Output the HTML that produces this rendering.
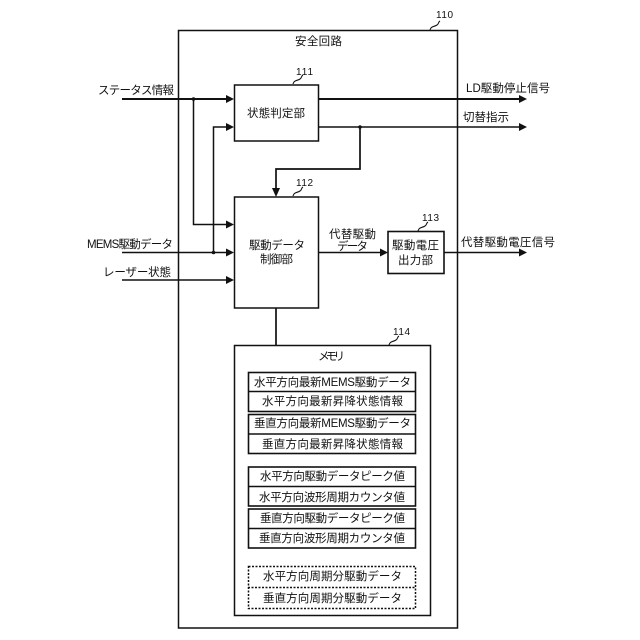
<!DOCTYPE html>
<html>
<head>
<meta charset="utf-8">
<style>
html,body{margin:0;padding:0;background:#fff;width:640px;height:640px;overflow:hidden}
svg{display:block}
text{font-family:"Liberation Sans","Noto Sans CJK JP",sans-serif;font-size:11.5px;fill:#111}
.n{font-size:10px}
rect{fill:none;stroke:#111}
line,polyline{stroke:#111;fill:none}
path.lead{stroke:#111;fill:none;stroke-width:1.1}
polygon,circle{fill:#111}
</style>
</head>
<body>
<svg width="640" height="640" viewBox="0 0 640 640" xmlns="http://www.w3.org/2000/svg">
<!-- boxes -->
<rect x="178.5" y="30.5" width="279" height="597.5" stroke-width="1.5"/>
<rect x="234.5" y="85" width="84" height="56" stroke-width="1.5"/>
<rect x="234.5" y="197" width="84" height="111" stroke-width="1.5"/>
<rect x="388" y="231.5" width="56" height="42" stroke-width="1.6"/>
<rect x="234.5" y="345.5" width="196" height="270" stroke-width="1.5"/>
<!-- memory rows -->
<rect x="248.5" y="372.5" width="167" height="39" stroke-width="1.6"/>
<line x1="248" y1="391.5" x2="416" y2="391.5" stroke-width="1.5"/>
<rect x="248.5" y="414.5" width="167" height="39" stroke-width="1.6"/>
<line x1="248" y1="434" x2="416" y2="434" stroke-width="1.5"/>
<rect x="248.5" y="467" width="167" height="39" stroke-width="1.6"/>
<line x1="248" y1="486.5" x2="416" y2="486.5" stroke-width="1.5"/>
<rect x="248.5" y="509" width="167" height="39" stroke-width="1.6"/>
<line x1="248" y1="528.5" x2="416" y2="528.5" stroke-width="1.5"/>
<rect x="248.5" y="566.5" width="167" height="42" stroke-width="1.5" stroke-dasharray="2 1.5"/>
<line x1="248" y1="587.5" x2="416" y2="587.5" stroke-width="1.5" stroke-dasharray="2 1.5"/>
<!-- connectors -->
<line x1="122" y1="99" x2="228" y2="99" stroke-width="2"/>
<polygon points="234,99 226,95 226,103"/>
<polyline points="193.5,99 193.5,224.5 228,224.5" stroke-width="1.5"/>
<polygon points="234,224.5 226,220.5 226,228.5"/>
<polyline points="213.5,252.5 213.5,127 228,127" stroke-width="1.5"/>
<polygon points="234,127 226,123 226,131"/>
<line x1="122" y1="252.5" x2="228" y2="252.5" stroke-width="1.5"/>
<polygon points="234,252.5 226,248.5 226,256.5"/>
<line x1="122" y1="280" x2="228" y2="280" stroke-width="1.5"/>
<polygon points="234,280 226,276 226,284"/>
<circle cx="193.5" cy="99" r="1.8"/>
<circle cx="213.5" cy="252.5" r="1.8"/>
<line x1="318" y1="99" x2="522" y2="99" stroke-width="2"/>
<polygon points="527,99 519,95 519,103"/>
<line x1="318" y1="127" x2="522" y2="127" stroke-width="1.5"/>
<polygon points="527,127 519,123 519,131"/>
<circle cx="360" cy="127" r="1.8"/>
<polyline points="360,127 360,169 276,169 276,190" stroke-width="1.7"/>
<polygon points="276,197 272,188 280,188"/>
<line x1="318" y1="252.5" x2="382" y2="252.5" stroke-width="1.5"/>
<polygon points="388,252.5 380,248.5 380,256.5"/>
<line x1="444" y1="252.5" x2="522" y2="252.5" stroke-width="1.5"/>
<polygon points="527,252.5 519,248.5 519,256.5"/>
<line x1="276" y1="308" x2="276" y2="345" stroke-width="1.7"/>
<!-- leaders -->
<path class="lead" d="M430,30 C431,26 434,27 437,25 C439,24 438,22 440,21"/>
<path class="lead" d="M293,84 C294,80 297,81 300,79 C302,78 301,76 303,75"/>
<path class="lead" d="M293,196 C294,192 297,193 300,191 C302,190 301,188 303,187"/>
<path class="lead" d="M418,231 C419,227 422,228 425,226 C427,225 426,223 428,222"/>
<path class="lead" d="M389,345 C390,341 393,342 396,340 C398,339 397,337 399,336"/>
<!-- numbers -->
<text class="n" x="436" y="18" textLength="17" lengthAdjust="spacing">110</text>
<text class="n" x="296" y="75" textLength="17" lengthAdjust="spacing">111</text>
<text class="n" x="296" y="186" textLength="17" lengthAdjust="spacing">112</text>
<text class="n" x="422" y="221" textLength="17" lengthAdjust="spacing">113</text>
<text class="n" x="393" y="335" textLength="17" lengthAdjust="spacing">114</text>
<!-- labels -->
<text x="295" y="45" textLength="47" lengthAdjust="spacing">安全回路</text>
<text x="98" y="94" textLength="76" lengthAdjust="spacing">ステータス情報</text>
<text x="87" y="248" textLength="86" lengthAdjust="spacing">MEMS駆動データ</text>
<text x="103" y="276" textLength="68" lengthAdjust="spacing">レーザー状態</text>
<text x="247" y="117" textLength="58" lengthAdjust="spacing">状態判定部</text>
<text x="249" y="249" textLength="56" lengthAdjust="spacing">駆動データ</text>
<text x="260" y="263" textLength="33" lengthAdjust="spacing">制御部</text>
<text x="329" y="238" textLength="47" lengthAdjust="spacing">代替駆動</text>
<text x="337" y="250" textLength="31" lengthAdjust="spacing">データ</text>
<text x="392" y="249" textLength="47" lengthAdjust="spacing">駆動電圧</text>
<text x="398" y="264" textLength="35" lengthAdjust="spacing">出力部</text>
<text x="466" y="92" textLength="84" lengthAdjust="spacing">LD駆動停止信号</text>
<text x="463" y="121" textLength="46" lengthAdjust="spacing">切替指示</text>
<text x="461" y="246" textLength="94" lengthAdjust="spacing">代替駆動電圧信号</text>
<text x="318" y="360" textLength="27" lengthAdjust="spacing">メモリ</text>
<text x="254" y="386" textLength="157" lengthAdjust="spacing">水平方向最新MEMS駆動データ</text>
<text x="262" y="405" textLength="141" lengthAdjust="spacing">水平方向最新昇降状態情報</text>
<text x="254" y="427" textLength="157" lengthAdjust="spacing">垂直方向最新MEMS駆動データ</text>
<text x="262" y="448" textLength="141" lengthAdjust="spacing">垂直方向最新昇降状態情報</text>
<text x="260" y="480" textLength="145" lengthAdjust="spacing">水平方向駆動データピーク値</text>
<text x="259" y="501" textLength="146" lengthAdjust="spacing">水平方向波形周期カウンタ値</text>
<text x="260" y="522" textLength="145" lengthAdjust="spacing">垂直方向駆動データピーク値</text>
<text x="259" y="542" textLength="146" lengthAdjust="spacing">垂直方向波形周期カウンタ値</text>
<text x="263" y="580" textLength="139" lengthAdjust="spacing">水平方向周期分駆動データ</text>
<text x="263" y="602" textLength="139" lengthAdjust="spacing">垂直方向周期分駆動データ</text>
</svg>
</body>
</html>
